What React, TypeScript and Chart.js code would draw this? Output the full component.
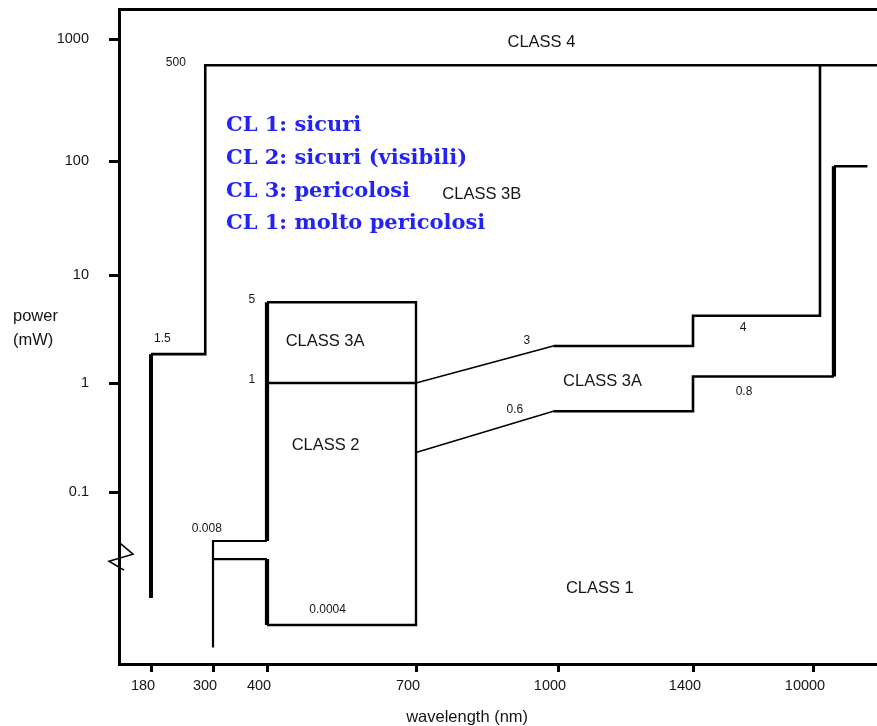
import React, { useEffect, useRef } from "react";
import { Chart, registerables } from "chart.js";

Chart.register(...registerables);

// ---- Axis ticks (schematic, non-uniform axes) ----
const wavelengthTicks = [180, 300, 400, 700, 1000, 1400, 10000];
const powerTicks = [1000, 100, 10, 1, 0.1];
// reference values below the axis break
const powerBreakRefs = [0.008, 0.0004];

// ---- Axis layout of the schematic scales (distance along the axis) ----
const wavelengthAxisPos = [32, 94, 148, 297, 439, 574, 694];
const powerAxisPos = [0, 122, 236, 344, 453, 502, 586];

// ---- Class boundaries (wavelength nm, power mW) ----
const uvEdgeWl = [180, 180];
const uvEdgeMw = [0.00105, 1.85];

const class4LeftWl = [180, 285, 285, 15000];
const class4LeftMw = [1.85, 1.85, 610, 610];

const class4RightWl = [10500, 10500, 1400, 1400, 990];
const class4RightMw = [610, 4.2, 4.2, 2.2, 2.2];

const class3aSlopeWl = [990, 700];
const class3aSlopeMw = [2.2, 1];

const class2UpperWl = [700, 400];
const class2UpperMw = [1, 1];

const visibleBoxWl = [400, 700, 700, 400];
const visibleBoxMw = [5.6, 5.6, 0.0004, 0.0004];

const boxLeftUpperWl = [400, 400];
const boxLeftUpperMw = [5.6, 0.008];
const boxLeftLowerWl = [400, 400];
const boxLeftLowerMw = [0.0042, 0.0004];

const uvStepWl = [400, 300, 300];
const uvStepMw = [0.008, 0.008, 0.00018];
const uvLowerWl = [300, 400];
const uvLowerMw = [0.0042, 0.0042];

const class1SlopeWl = [700, 990];
const class1SlopeMw = [0.23, 0.55];
const class1IrWl = [990, 1400, 1400, 11500];
const class1IrMw = [0.55, 0.55, 1.15, 1.15];
const class1FarWl = [11500, 11500];
const class1FarMw = [1.15, 90];
const class1FarTopWl = [11500, 13900];
const class1FarTopMw = [90, 90];

// ---- Text annotations ----
const classLabels = [
  { text: "CLASS 4", wl: 965, mw: 930 },
  { text: "CLASS 3B", wl: 839, mw: 51 },
  { text: "CLASS 3A", wl: 517, mw: 2.4 },
  { text: "CLASS 2", wl: 518, mw: 0.267 },
  { text: "CLASS 3A", wl: 1132, mw: 1.04 },
  { text: "CLASS 1", wl: 1124, mw: 0.00145 },
];
const valueLabels = [
  { text: "500", wl: 228, mw: 640 },
  { text: "1.5", wl: 202, mw: 2.55 },
  { text: "5", wl: 372, mw: 5.9 },
  { text: "1", wl: 372, mw: 1.07 },
  { text: "0.008", wl: 288, mw: 0.0149 },
  { text: "0.0004", wl: 522, mw: 0.00068 },
  { text: "3", wl: 934, mw: 2.45 },
  { text: "0.6", wl: 909, mw: 0.565 },
  { text: "4", wl: 4983, mw: 3.23 },
  { text: "0.8", wl: 5055, mw: 0.83 },
];
const noteLines = [
  "CL 1: sicuri",
  "CL 2: sicuri (visibili)",
  "CL 3: pericolosi",
  "CL 1: molto pericolosi",
];
const noteWl = 324;
const noteBaselineMw = [176, 94, 48.3, 25.4];

// ---- scale helpers ----
function piecewise(v: number, xs: number[], ys: number[]) {
  const n = xs.length;
  const asc = xs[n - 1] > xs[0];
  let i = 0;
  for (i = 0; i < n - 2; i++) {
    if (asc ? v <= xs[i + 1] : v >= xs[i + 1]) break;
  }
  const t = (v - xs[i]) / (xs[i + 1] - xs[i]);
  return ys[i] + t * (ys[i + 1] - ys[i]);
}
const powerAnchorLogs = [...powerTicks, ...powerBreakRefs].map((p) => Math.log10(p));
const wavelengthToAxis = (w: number) => piecewise(w, wavelengthTicks, wavelengthAxisPos);
const powerToAxis = (p: number) => piecewise(Math.log10(p), powerAnchorLogs, powerAxisPos);

const SANS = '"Liberation Sans", Arial, sans-serif';
const TEXT = "#151515";

function series(wl: number[], mw: number[], width: number) {
  return {
    data: wl.map((w, i) => ({ x: wavelengthToAxis(w), y: powerToAxis(mw[i]) })),
    borderColor: "#000",
    borderWidth: width,
    pointRadius: 0,
    showLine: true,
    fill: false,
    tension: 0,
    borderJoinStyle: "miter" as const,
    borderCapStyle: "butt" as const,
  };
}

const annotationPlugin = {
  id: "annotations",
  afterDraw(chart: any) {
    const { ctx, chartArea } = chart;
    const xs = chart.scales.x;
    const ys = chart.scales.y;
    const px = (wl: number) => xs.getPixelForValue(wavelengthToAxis(wl));
    const py = (mw: number) => ys.getPixelForValue(powerToAxis(mw));
    ctx.save();
    ctx.fillStyle = TEXT;
    ctx.textAlign = "center";
    ctx.textBaseline = "middle";
    ctx.font = `16.5px ${SANS}`;
    classLabels.forEach((l) => ctx.fillText(l.text, px(l.wl), py(l.mw)));
    ctx.font = `12px ${SANS}`;
    valueLabels.forEach((l) => ctx.fillText(l.text, px(l.wl), py(l.mw)));

    // blue notes
    ctx.fillStyle = "#2323f5";
    ctx.textAlign = "left";
    ctx.textBaseline = "alphabetic";
    ctx.font = `bold 21px "DejaVu Serif", serif`;
    noteLines.forEach((t, i) => ctx.fillText(t, px(noteWl), py(noteBaselineMw[i])));

    // axis titles
    ctx.fillStyle = TEXT;
    ctx.font = `16.5px ${SANS}`;
    ctx.textAlign = "center";
    ctx.textBaseline = "middle";
    ctx.fillText("wavelength (nm)", px(808), chartArea.bottom + 53);
    ctx.textAlign = "left";
    ctx.fillText("power", 13, py(4.1));
    ctx.fillText("(mW)", 13, py(2.5));

    // axis break zigzag
    const bx = chartArea.left;
    const by = py(0.005);
    ctx.strokeStyle = "#000";
    ctx.lineWidth = 1.6;
    ctx.beginPath();
    ctx.moveTo(bx + 1, by - 11);
    ctx.lineTo(bx + 14, by);
    ctx.lineTo(bx - 10, by + 7);
    ctx.lineTo(bx + 5, by + 16);
    ctx.stroke();
    ctx.restore();
  },
};

export default function App() {
  const ref = useRef<HTMLCanvasElement | null>(null);
  useEffect(() => {
    if (!ref.current) return;
    const chart = new Chart(ref.current, {
      type: "scatter",
      data: {
        datasets: [
          series(class4LeftWl, class4LeftMw, 2.6),
          series(class4RightWl, class4RightMw, 2.6),
          series(class3aSlopeWl, class3aSlopeMw, 1.5),
          series(class2UpperWl, class2UpperMw, 2.6),
          series(visibleBoxWl, visibleBoxMw, 2.4),
          series(uvStepWl, uvStepMw, 2.2),
          series(uvLowerWl, uvLowerMw, 2.2),
          series(class1SlopeWl, class1SlopeMw, 1.5),
          series(class1IrWl, class1IrMw, 2.6),
          series(class1FarTopWl, class1FarTopMw, 2.6),
          series(uvEdgeWl, uvEdgeMw, 4),
          series(boxLeftUpperWl, boxLeftUpperMw, 4.2),
          series(boxLeftLowerWl, boxLeftLowerMw, 4.2),
          series(class1FarWl, class1FarMw, 4.2),
        ] as any,
      },
      options: {
        animation: false,
        responsive: false,
        layout: { padding: { top: 9, left: 0, right: 0, bottom: 0 } },
        plugins: { legend: { display: false }, tooltip: { enabled: false } },
        events: [],
        scales: {
          x: {
            type: "linear",
            position: "bottom",
            min: 0,
            max: 758,
            afterBuildTicks: (s: any) => {
              s.ticks = wavelengthTicks.map((w) => ({ value: wavelengthToAxis(w) }));
            },
            afterFit: (s: any) => {
              s.height = 62;
              s.paddingLeft = 0;
              s.paddingRight = 0;
              s.paddingTop = 0;
              s.paddingBottom = 0;
            },
            border: { display: true, width: 3, color: "#000" },
            grid: { drawOnChartArea: false, drawTicks: true, tickLength: 8, tickWidth: 3, tickColor: "#000" },
            ticks: {
              autoSkip: false,
              maxRotation: 0,
              padding: 5,
              labelOffset: -8,
              color: TEXT,
              font: { family: SANS, size: 14.5 },
              callback: (_v: any, i: number) => String(wavelengthTicks[i]),
            },
          },
          xTop: {
            type: "linear",
            position: "top",
            min: 0,
            max: 758,
            afterFit: (s: any) => {
              s.height = 0;
              s.paddingLeft = 0;
              s.paddingRight = 0;
              s.paddingTop = 0;
              s.paddingBottom = 0;
            },
            border: { display: true, width: 3, color: "#000" },
            grid: { display: false },
            ticks: { display: false },
          },
          y: {
            type: "linear",
            position: "left",
            reverse: true,
            min: -30,
            max: 625,
            afterBuildTicks: (s: any) => {
              s.ticks = powerTicks.map((p) => ({ value: powerToAxis(p) }));
            },
            afterFit: (s: any) => {
              s.width = 119;
              s.paddingLeft = 0;
              s.paddingRight = 0;
              s.paddingTop = 0;
              s.paddingBottom = 0;
            },
            border: { display: true, width: 3, color: "#000" },
            grid: { drawOnChartArea: false, drawTicks: true, tickLength: 10, tickWidth: 3, tickColor: "#000" },
            ticks: {
              autoSkip: false,
              padding: 20,
              color: TEXT,
              font: { family: SANS, size: 14.5 },
              callback: (_v: any, i: number) => String(powerTicks[i]),
            },
          },
        },
      } as any,
      plugins: [annotationPlugin],
    });
    return () => chart.destroy();
  }, []);
  return (
    <div style={{ position: "fixed", left: 0, top: 0, width: 877, height: 726, background: "#fff" }}>
      <canvas ref={ref} width={877} height={726} style={{ display: "block" }} />
    </div>
  );
}
